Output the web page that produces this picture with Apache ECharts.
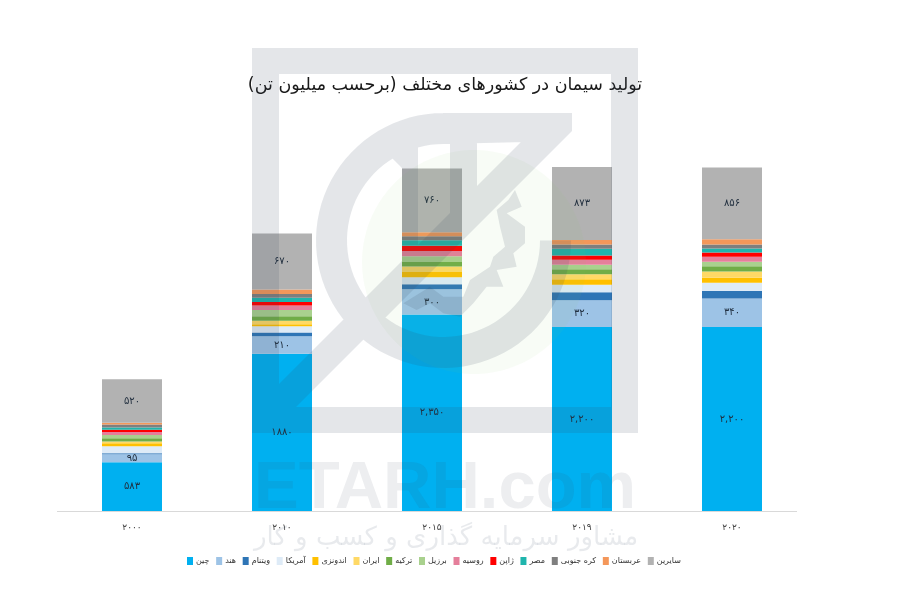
<!DOCTYPE html>
<html lang="fa">
<head>
<meta charset="utf-8">
<title>تولید سیمان</title>
<style>html,body{margin:0;padding:0;background:#fff}#chart{width:900px;height:600px}</style>
<script src="https://cdn.jsdelivr.net/npm/echarts@6/dist/echarts.min.js"></script>
</head>
<body>
<div id="chart"></div>
<script>
const categories = ['۲۰۰۰','۲۰۱۰','۲۰۱۵','۲۰۱۹','۲۰۲۰'];
const chinaValues      = [583,1880,2350,2200,2200];
const indiaValues      = [95,210,300,320,340];
const vietnamValues    = [12,44,60,95,90];
const usaValues        = [84,76,84,90,100];
const indonesiaValues  = [36,24,64,65,60];
const iranValues       = [20,40,64,60,75];
const turkeyValues     = [40,56,56,60,60];
const brazilValues     = [40,72,68,55,55];
const russiaValues     = [36,56,64,60,60];
const japanValues      = [24,40,60,50,50];
const egyptValues      = [28,52,68,80,50];
const koreaValues      = [36,44,48,50,45];
const arabiaValues     = [20,55,48,55,65];
const othersValues     = [520,670,760,873,856];
const chinaLabels  = ['۵۸۳','۱۸۸۰','۲,۳۵۰','۲,۲۰۰','۲,۲۰۰'];
const indiaLabels  = ['۹۵','۲۱۰','۳۰۰','۳۲۰','۳۴۰'];
const othersLabels = ['۵۲۰','۶۷۰','۷۶۰','۸۷۳','۸۵۶'];
const titleText = 'تولید سیمان در کشورهای مختلف (برحسب میلیون تن)';

const seriesDefs = [
  ['چین', chinaValues, '#00b0f0', chinaLabels],
  ['هند', indiaValues, '#9dc3e6', indiaLabels],
  ['ویتنام', vietnamValues, '#2e75b6'],
  ['آمریکا', usaValues, '#deebf7'],
  ['اندونزی', indonesiaValues, '#ffc000'],
  ['ایران', iranValues, '#ffd966'],
  ['ترکیه', turkeyValues, '#70ad47'],
  ['برزیل', brazilValues, '#a9d18e'],
  ['روسیه', russiaValues, '#e57f9b'],
  ['ژاپن', japanValues, '#ff0000'],
  ['مصر', egyptValues, '#1fb5ad'],
  ['کره جنوبی', koreaValues, '#7f7f7f'],
  ['عربستان', arabiaValues, '#f4975a'],
  ['سایرین', othersValues, '#b2b2b2', othersLabels]
];

const FONT = '"DejaVu Sans", sans-serif';

/* ---- decorative watermark (not data) ---- */
const Z = (x, y) => [230 + x / 3, 40 + y / 3];
function circlePts(cx, cy, r, a0, a1, n) {
  const p = [];
  for (let i = 0; i <= n; i++) {
    const a = (a0 + (a1 - a0) * i / n) * Math.PI / 180;
    p.push([cx + r * Math.cos(a), cy + r * Math.sin(a)]);
  }
  return p;
}
function orient(pts) {
  let area = 0;
  pts.forEach((p, i) => { const q = pts[(i + 1) % pts.length]; area += p[0] * q[1] - q[0] * p[1]; });
  return area < 0 ? pts.slice().reverse() : pts;
}
const cx = 443.5, cy = 240.5, rO = 127.5, rI = 96.5;
const wmPolys = [
  [[252,48],[638,48],[638,74],[252,74]],
  [[252,48],[279,48],[279,433],[252,433]],
  [[611,48],[638,48],[638,433],[611,433]],
  [[252,407],[638,407],[638,433],[252,433]],
  circlePts(cx,cy,rO,0,270,70).concat(circlePts(cx,cy,rI,270,0,70)),
  [[443,113],[572,113],[572,131],[525,142],[443,144]],
  [[572,131],[296,407],[252,407],[252,411],[525,138]],
  [[450,142],[477,142],[477,186],[450,213]],
  [[392,158],[418,143],[418,245],[402,261],[402,168]],
  [Z(855,450),Z(875,500),Z(830,520),Z(885,560),Z(885,610),Z(850,640),Z(860,680),Z(800,690),Z(820,740),Z(770,740),Z(730,790),Z(690,830),Z(640,820),Z(600,790),Z(560,810),Z(520,790),Z(600,740),Z(640,770),Z(700,770),Z(720,720),Z(780,680),Z(790,650),Z(825,620),Z(810,560),Z(800,510),Z(835,480)]
].map(orient);
const greenPts = circlePts(474,262,112,0,360,90).map(p => [Math.min(p[0],587),p[1]]);
echarts.graphic.registerShape('wmPolys', echarts.graphic.extendShape({
  shape:{polys:[]},
  buildPath(ctx, shape){
    shape.polys.forEach(pts => {
      pts.forEach((p,i) => i ? ctx.lineTo(p[0],p[1]) : ctx.moveTo(p[0],p[1]));
      ctx.closePath();
    });
  }
}));
const decoration = [
  {type:'line', silent:true, z:1, shape:{x1:57,y1:511.5,x2:797,y2:511.5}, style:{stroke:'#d9d9d9', lineWidth:1}},
  {type:'wmPolys', silent:true, z:90, shape:{polys:[greenPts]}, style:{fill:'rgba(130,210,100,0.06)'}},
  {type:'wmPolys', silent:true, z:91, shape:{polys:wmPolys}, style:{fill:'rgba(50,65,90,0.135)'}},
  {type:'text', silent:true, z:92, style:{text:'ETARH.com', x:254, y:456, font:'bold 67px "Liberation Sans", sans-serif', fill:'rgba(50,65,90,0.09)'}},
  {type:'text', silent:true, z:92, style:{text:'مشاور سرمایه گذاری و کسب و کار', x:446, y:525, textAlign:'center', font:'26px "DejaVu Sans", sans-serif', fill:'rgba(50,65,90,0.11)'}}
];

const chart = echarts.init(document.getElementById('chart'), null, {renderer:'canvas'});
chart.setOption({
  animation:false,
  backgroundColor:'#ffffff',
  title:{text:titleText, left:440, top:71, textAlign:'center',
    textStyle:{fontFamily:FONT, fontSize:17.5, fontWeight:'normal', color:'#1a1a1a'}},
  legend:{left:182, top:552, orient:'horizontal', width:640, itemWidth:6, itemHeight:8, itemGap:6.7,
    icon:'rect', textStyle:{fontFamily:FONT, fontSize:8, color:'#333', padding:[0,0,0,-2]},
    data:seriesDefs.map(d=>d[0])},
  grid:{left:57, top:143, width:750, height:368},
  xAxis:{type:'category', data:categories, axisTick:{show:false},
    axisLine:{show:false},
    axisLabel:{fontFamily:FONT, fontSize:9, color:'#404040', margin:12}},
  yAxis:{type:'value', min:0, max:4400, show:false, splitLine:{show:false}},
  series:seriesDefs.map(d=>({
    name:d[0], type:'bar', stack:'total', barWidth:60, data:d[1],
    itemStyle:{color:d[2]},
    label: d[3] ? {show:true, position:'inside', fontFamily:FONT, fontSize:10, color:'#1f2d3d',
      formatter:p=>d[3][p.dataIndex]} : {show:false}
  })),
  graphic:decoration
});
</script>
</body>
</html>
